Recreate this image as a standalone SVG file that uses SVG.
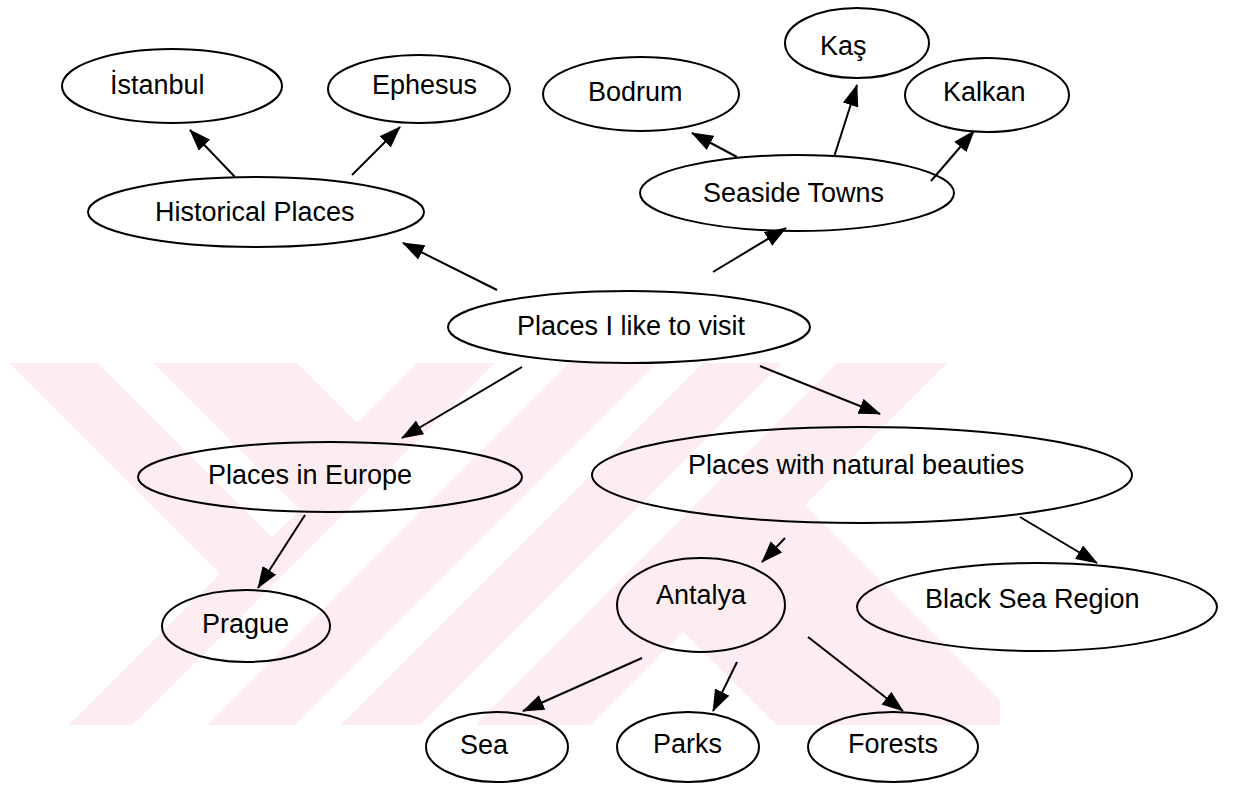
<svg xmlns="http://www.w3.org/2000/svg" width="1233" height="785" viewBox="0 0 1233 785">
<defs>
<style>
.n ellipse{fill:none;stroke:#000;stroke-width:2}
.n text{font-family:"Liberation Sans",Arial,sans-serif;font-size:27px;fill:#000}
#connectors line{stroke:#000;stroke-width:2;marker-end:url(#ah)}
.wm{fill:#fdedf0}
.cut{fill:#fff}
</style>
<marker id="ah" markerUnits="userSpaceOnUse" markerWidth="23" markerHeight="17" refX="21" refY="8" orient="auto">
<path d="M0,0 L22,8 L0,16 z" fill="#000"/>
</marker>
<clipPath id="wmclip"><rect x="0" y="363" width="1000" height="362"/></clipPath>
</defs>
<rect width="1233" height="785" fill="#fff"/>
<g id="watermark" clip-path="url(#wmclip)">
<rect class="wm" x="0" y="363" width="1000" height="362"/>
<polygon class="cut" points="0,363 9,363 220,574 69,725 0,725"/>
<polygon class="cut" points="98,363 153,363 300,510 272,537"/>
<polygon class="cut" points="495,363 569,363 207,725 133,725"/>
<polygon class="cut" points="297,363 417,363 357,423"/>
<polygon class="cut" points="657,363 703,363 341,725 295,725"/>
<polygon class="cut" points="782,363 837,363 475,725 420,725"/>
<polygon class="cut" points="683,632 590,725 776,725"/>
<polygon class="cut" points="805,505 947,363 1100,363 1100,725 1025,725"/>
</g>
<g id="connectors">
<line x1="235" y1="177" x2="190" y2="130"/>
<line x1="352" y1="175" x2="400" y2="127"/>
<line x1="497" y1="290" x2="403" y2="243"/>
<line x1="713" y1="272" x2="786" y2="228"/>
<line x1="737" y1="157" x2="692" y2="133"/>
<line x1="834" y1="157" x2="857" y2="85"/>
<line x1="931" y1="181" x2="974" y2="131"/>
<line x1="522" y1="367" x2="402" y2="438"/>
<line x1="760" y1="366" x2="880" y2="414"/>
<line x1="305" y1="515" x2="258" y2="588"/>
<line x1="785" y1="538" x2="762" y2="562"/>
<line x1="1020" y1="517" x2="1097" y2="563"/>
<line x1="642" y1="658" x2="523" y2="711"/>
<line x1="737" y1="662" x2="713" y2="711"/>
<line x1="808" y1="637" x2="903" y2="711"/>
</g>
<g id="n-istanbul" class="n"><ellipse cx="172" cy="86" rx="110" ry="37"/><text x="110" y="94">İstanbul</text></g>
<g id="n-ephesus" class="n"><ellipse cx="419" cy="89" rx="91" ry="34"/><text x="372" y="94">Ephesus</text></g>
<g id="n-historical" class="n"><ellipse cx="256" cy="212" rx="168" ry="35"/><text x="155" y="221">Historical Places</text></g>
<g id="n-bodrum" class="n"><ellipse cx="641" cy="94" rx="98" ry="37"/><text x="588" y="101">Bodrum</text></g>
<g id="n-kas" class="n"><ellipse cx="857" cy="43" rx="72" ry="35"/><text x="820" y="55">Kaş</text></g>
<g id="n-kalkan" class="n"><ellipse cx="987" cy="95" rx="82" ry="37"/><text x="943" y="101">Kalkan</text></g>
<g id="n-seaside" class="n"><ellipse cx="797" cy="193" rx="157" ry="38"/><text x="703" y="202">Seaside Towns</text></g>
<g id="n-center" class="n"><ellipse cx="629" cy="327" rx="181" ry="36"/><text x="517" y="335">Places I like to visit</text></g>
<g id="n-europe" class="n"><ellipse cx="330" cy="477" rx="192" ry="35"/><text x="208" y="484">Places in Europe</text></g>
<g id="n-nature" class="n"><ellipse cx="862" cy="475" rx="270" ry="48"/><text x="688" y="474">Places with natural beauties</text></g>
<g id="n-prague" class="n"><ellipse cx="246" cy="626" rx="84" ry="36"/><text x="202" y="633">Prague</text></g>
<g id="n-antalya" class="n"><ellipse cx="701" cy="605" rx="84" ry="47"/><text x="656" y="604">Antalya</text></g>
<g id="n-blacksea" class="n"><ellipse cx="1037" cy="607" rx="180" ry="44"/><text x="925" y="608">Black Sea Region</text></g>
<g id="n-sea" class="n"><ellipse cx="497" cy="747" rx="71" ry="35"/><text x="460" y="754">Sea</text></g>
<g id="n-parks" class="n"><ellipse cx="688" cy="747" rx="71" ry="35"/><text x="653" y="753">Parks</text></g>
<g id="n-forests" class="n"><ellipse cx="893" cy="747" rx="85" ry="35"/><text x="848" y="753">Forests</text></g>
</svg>
